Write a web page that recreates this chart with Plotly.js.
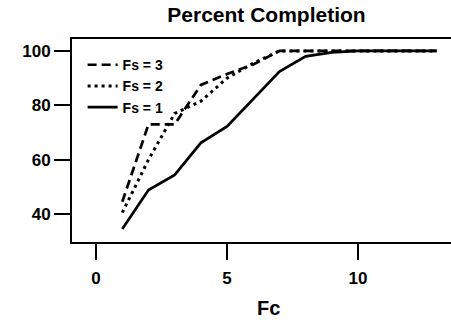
<!DOCTYPE html>
<html>
<head>
<meta charset="utf-8">
<script src="https://cdn.plot.ly/plotly-3.0.1.min.js"></script>
<style>html,body{margin:0;padding:0;background:#fff;}#chart{width:451px;height:320px;}</style>
</head>
<body>
<div id="chart"></div>
<script>
const fc = [1, 2, 3, 4, 5, 6, 7, 8, 9, 10, 11, 12, 13];
const fs3 = [44.5, 73, 73, 87.5, 91.5, 95, 100, 100, 100, 100, 100, 100, 100];
const fs2 = [40.5, 60, 77, 81.5, 90, 95.5, 100, 100, 100, 100, 100, 100, 100];
const fs1 = [34.5, 48.8, 54.4, 66.2, 72.2, 82.5, 92.4, 98, 99.5, 100, 100, 100, 100];
const seriesNames = ['Fs = 3', 'Fs = 2', 'Fs = 1'];
const xTicks = [0, 5, 10];
const yTicks = [40, 60, 80, 100];

const FONT = 'Arial, "Liberation Sans", Helvetica, sans-serif';

const traces = [
  {x: fc, y: fs3, name: seriesNames[0], mode: 'lines', line: {color: '#000', width: 2.7, dash: '9px,5px'}},
  {x: fc, y: fs2, name: seriesNames[1], mode: 'lines', line: {color: '#000', width: 3, dash: '3px,4px'}},
  {x: fc, y: fs1, name: seriesNames[2], mode: 'lines', line: {color: '#000', width: 2.7}}
];

const layout = {
  width: 451, height: 320,
  margin: {l: 72, r: 0, t: 39, b: 78, pad: 0},
  paper_bgcolor: '#fff', plot_bgcolor: '#fff',
  font: {family: FONT, color: '#000', weight: 'bold'},
  title: {text: 'Percent Completion', font: {size: 21, family: FONT, weight: 'bold', color: '#000'},
          x: 266.5/451, xanchor: 'center', xref: 'container', y: 1 - 15/320, yanchor: 'middle', yref: 'container'},
  showlegend: true,
  legend: {x: 0.028, y: 0.95, xanchor: 'left', yanchor: 'top', bgcolor: 'rgba(0,0,0,0)',
           font: {size: 14, family: FONT, weight: 'bold', color: '#000'}, tracegroupgap: 0},
  xaxis: {range: [-0.92, 13.55], tickvals: xTicks, ticks: 'outside', ticklen: 16, tickwidth: 2, tickcolor: '#000',
          showline: true, linewidth: 2, linecolor: '#000', mirror: true, showgrid: false, zeroline: false,
          tickfont: {size: 17, family: FONT, weight: 'bold', color: '#000'}, ticklabelstandoff: 4},
  yaxis: {range: [29.7, 104.4], tickvals: yTicks, ticks: 'outside', ticklen: 16, tickwidth: 2, tickcolor: '#000',
          showline: true, linewidth: 2, linecolor: '#000', mirror: false, showgrid: false, zeroline: false,
          tickfont: {size: 17, family: FONT, weight: 'bold', color: '#000'}},
  annotations: [
    {text: 'Fc', xref: 'paper', yref: 'paper', x: (268.5-72)/379, y: (242-308)/203, xanchor: 'center', yanchor: 'middle',
     showarrow: false, font: {size: 20, family: FONT, weight: 'bold', color: '#000'}}
  ]
};

Plotly.newPlot('chart', traces, layout, {displayModeBar: false, staticPlot: true});
</script>
</body>
</html>
